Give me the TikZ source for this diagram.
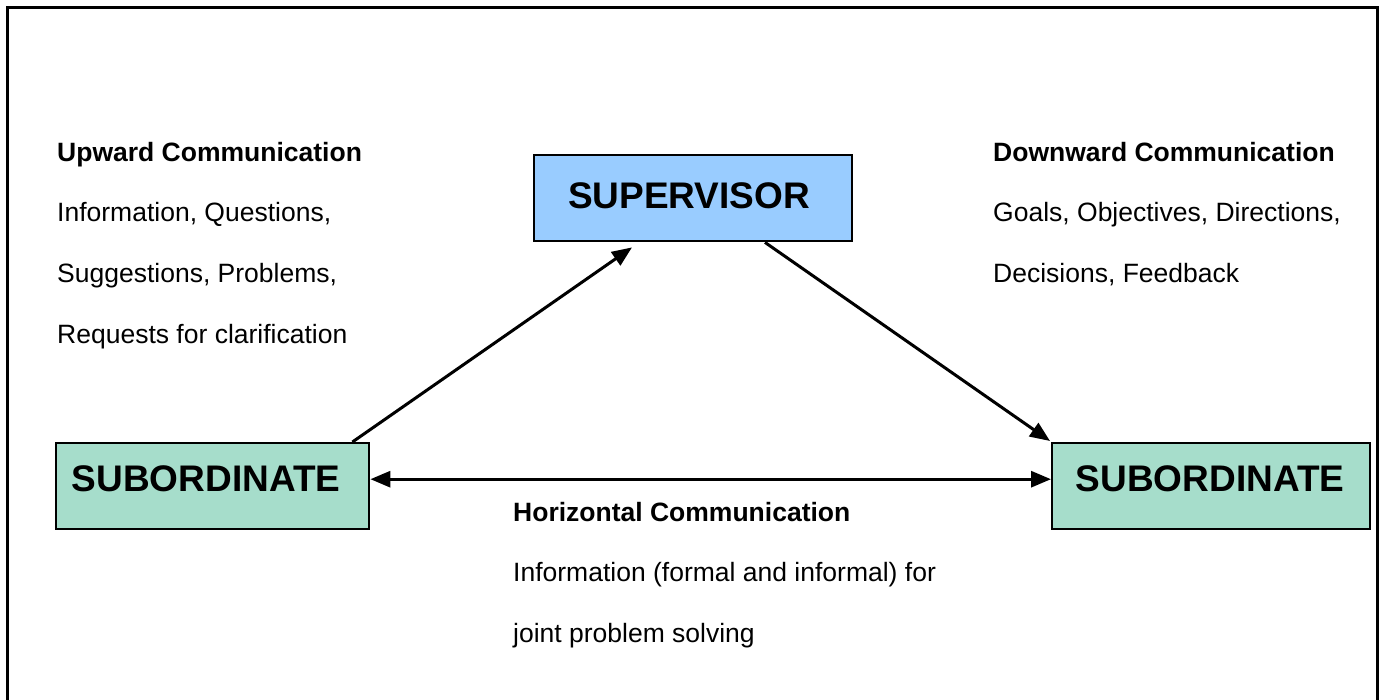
\documentclass[tikz,border=0pt]{standalone}
\usepackage{fontspec}
\setmainfont{Liberation Sans}
\usetikzlibrary{arrows.meta}
\definecolor{supfill}{RGB}{153,204,255}
\definecolor{subfill}{RGB}{166,221,203}
\tikzset{
  box/.style={draw=black, line width=2.4pt, inner sep=0pt, anchor=north west},
  boxtext/.style={inner sep=0pt, font=\fontsize{37}{40}\selectfont\bfseries},
  label/.style={anchor=base west, inner sep=0pt, font=\fontsize{26.5}{30}\selectfont},
  head/.style={anchor=base west, inner sep=0pt, font=\fontsize{26.5}{30}\selectfont\bfseries},
  link/.style={line width=3pt, -{Triangle[length=20pt,width=16pt]}},
  twoway/.style={line width=3pt, {Triangle[length=20pt,width=16pt]}-{Triangle[length=20pt,width=16pt]}},
}
\begin{document}
\begin{tikzpicture}[x=1pt,y=-1pt]
  \useasboundingbox (0,0) rectangle (1383,700);
  % outer frame, open at the bottom of the page
  \begin{scope}
    \clip (0,0) rectangle (1383,700);
    \draw[line width=3pt] (7,8) rectangle (1377,740);
  \end{scope}

  % boxes
  \node[box, fill=supfill, minimum width=318pt, minimum height=86pt] (sup) at (533,154) {};
  \node[boxtext] (supt) at (689,196) {SUPERVISOR};

  \node[box, fill=subfill, minimum width=313pt, minimum height=86pt] (subL) at (55,442) {};
  \node[boxtext] (subLt) at (206,479) {SUBORDINATE};

  \node[box, fill=subfill, minimum width=318pt, minimum height=86pt] (subR) at (1051,442) {};
  \node[boxtext] (subRt) at (1210,479) {SUBORDINATE};

  % connectors
  \draw[link] ([xshift=-18pt]subL.north east) -- ([xshift=99pt,yshift=-5pt]sup.south west);
  \draw[link] ([xshift=232pt]sup.south west) -- ([xshift=-1pt,yshift=1pt]subR.north west);
  \draw[twoway] ([yshift=7pt]subL.east) -- ([yshift=7pt]subR.west);

  % upward communication
  \node[head]  (uh) at (57,162) {Upward Communication};
  \node[label] (u1) at (57,222) {Information, Questions,};
  \node[label] (u2) at (57,283) {Suggestions, Problems,};
  \node[label] (u3) at (57,343) {Requests for clarification};

  % downward communication
  \node[head]  (dh) at (993,162) {Downward Communication};
  \node[label] (d1) at (993,222) {Goals, Objectives, Directions,};
  \node[label] (d2) at (993,283) {Decisions, Feedback};

  % horizontal communication
  \node[head]  (hh) at (513,521) {Horizontal Communication};
  \node[label] (h1) at (513,581) {Information (formal and informal) for};
  \node[label] (h2) at (513,642) {joint problem solving};
\end{tikzpicture}
\end{document}
